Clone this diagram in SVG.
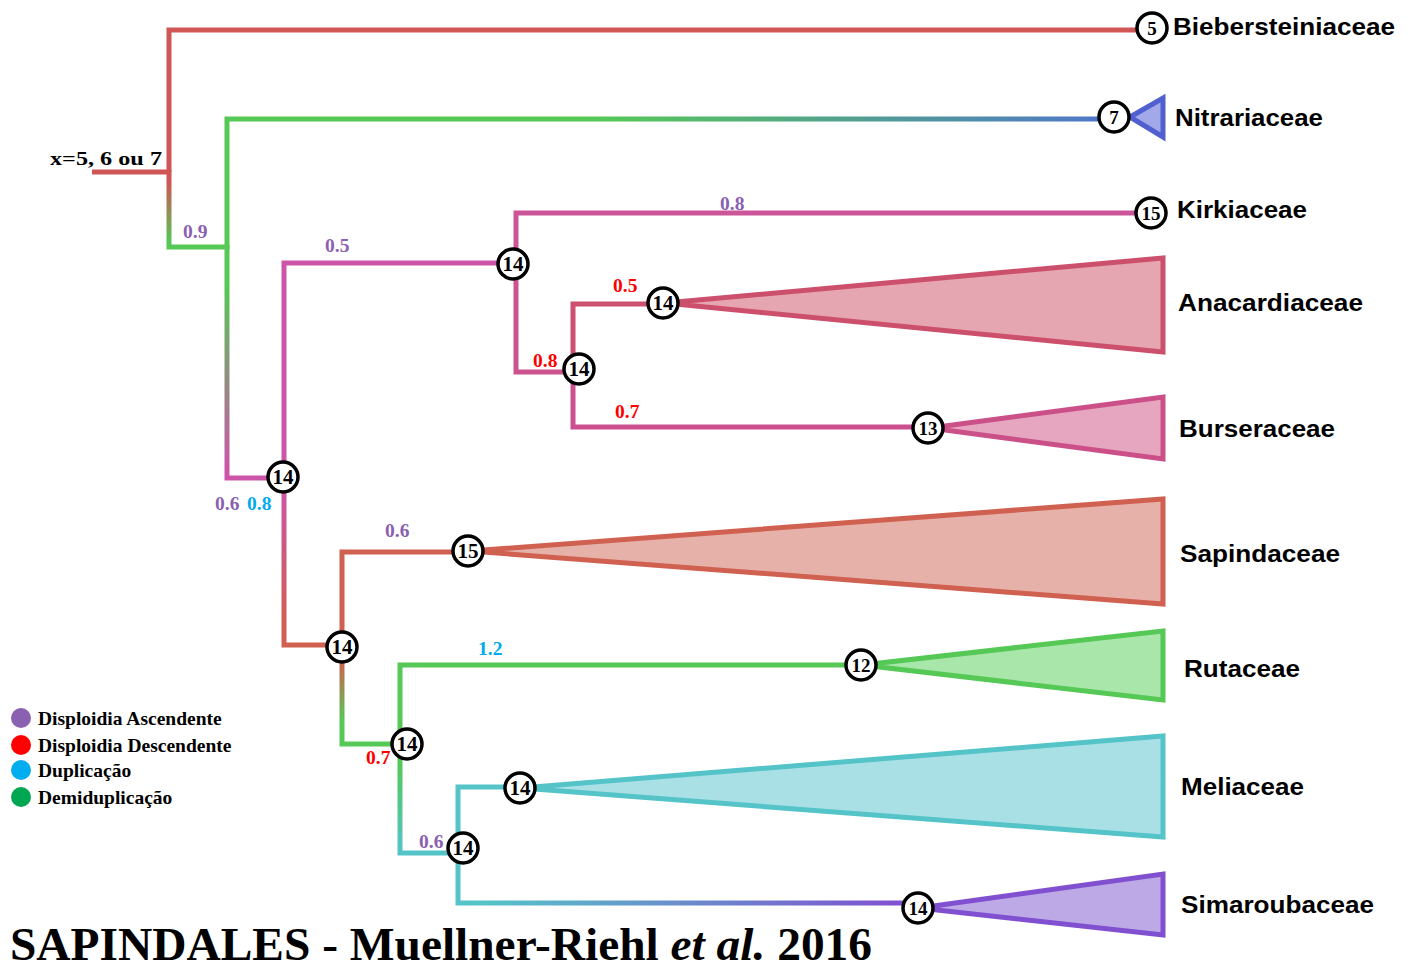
<svg xmlns="http://www.w3.org/2000/svg" width="1413" height="971" viewBox="0 0 1413 971">
<style>
.e{fill:none;stroke-width:5;stroke-linejoin:miter}
.tri{stroke-width:5;stroke-linejoin:miter}
.nc{fill:#fff;stroke:#000;stroke-width:3.5}
.nt{font-family:"Liberation Serif","Times New Roman",serif;font-weight:bold;font-size:21px;text-anchor:middle;fill:#000}
.ns{font-size:19px}
.tx{font-family:"Liberation Sans",Arial,sans-serif;font-weight:bold;font-size:23px;fill:#000}
.lb{font-family:"Liberation Serif","Times New Roman",serif;font-weight:bold;font-size:19.5px}
.pu{fill:#8a60b0}
.rd{fill:#ff0000}
.bl{fill:#00aaee}
.lg{font-family:"Liberation Serif","Times New Roman",serif;font-weight:bold;font-size:19.5px;fill:#000}
</style>
<defs>
<linearGradient id="gC" gradientUnits="userSpaceOnUse" x1="0" y1="182" x2="0" y2="242"><stop offset="0" stop-color="#d05555"/><stop offset="1" stop-color="#55c855"/></linearGradient>
<linearGradient id="gD" gradientUnits="userSpaceOnUse" x1="600" y1="0" x2="1100" y2="0"><stop offset="0" stop-color="#55c855"/><stop offset="1" stop-color="#4f78c8"/></linearGradient>
<linearGradient id="gE" gradientUnits="userSpaceOnUse" x1="0" y1="285" x2="0" y2="470"><stop offset="0" stop-color="#55c855"/><stop offset="1" stop-color="#cc55aa"/></linearGradient>
<linearGradient id="gG" gradientUnits="userSpaceOnUse" x1="0" y1="485" x2="0" y2="625"><stop offset="0" stop-color="#cc55aa"/><stop offset="1" stop-color="#d06050"/></linearGradient>
<linearGradient id="gM" gradientUnits="userSpaceOnUse" x1="0" y1="660" x2="0" y2="722"><stop offset="0" stop-color="#d06050"/><stop offset="1" stop-color="#55c855"/></linearGradient>
<linearGradient id="gO" gradientUnits="userSpaceOnUse" x1="0" y1="760" x2="0" y2="850"><stop offset="0" stop-color="#55c855"/><stop offset="1" stop-color="#55c4c8"/></linearGradient>
<linearGradient id="gQ" gradientUnits="userSpaceOnUse" x1="480" y1="0" x2="905" y2="0"><stop offset="0" stop-color="#55c4c8"/><stop offset="1" stop-color="#8050d0"/></linearGradient>
</defs>

<g id="connectors">
<path class="e" stroke="#d05555" d="M92,172 H169"/>
<path class="e" stroke="#d05555" d="M169,172 V30 H1137"/>
<path class="e" stroke="url(#gC)" d="M169,170 V247 H228"/>
<path class="e" stroke="url(#gD)" d="M227,249 V119 H1100"/>
<path class="e" stroke="url(#gE)" d="M227,245 V478 H270"/>
<path class="e" stroke="#cc55aa" d="M284,478 V263 H500"/>
<path class="e" stroke="url(#gG)" d="M284,476 V645 H328"/>
<path class="e" stroke="#cc5599" d="M516,263 V213 H1137"/>
<path class="e" stroke="#cc5590" d="M516,263 V372 H566"/>
<path class="e" stroke="#cc5070" d="M573,369 V304 H650"/>
<path class="e" stroke="#cc5090" d="M573,369 V427 H914"/>
<path class="e" stroke="#d06050" d="M342,647 V552 H455"/>
<path class="e" stroke="url(#gM)" d="M342,647 V744 H394"/>
<path class="e" stroke="#55c855" d="M400,745 V665 H848"/>
<path class="e" stroke="url(#gO)" d="M400,743 V853 H450"/>
<path class="e" stroke="#55c4c8" d="M458,848 V787 H507"/>
<path class="e" stroke="url(#gQ)" d="M458,846 V903 H905"/>
</g>

<g id="branch-labels" class="lb">
<text class="lb pu" x="183" y="238">0.9</text>
<text class="lb pu" x="325" y="252">0.5</text>
<text class="lb pu" x="720" y="210">0.8</text>
<text class="lb rd" x="613" y="292">0.5</text>
<text class="lb rd" x="533" y="367">0.8</text>
<text class="lb rd" x="615" y="418">0.7</text>
<text class="lb pu" x="215" y="510">0.6</text>
<text class="lb bl" x="247" y="510">0.8</text>
<text class="lb pu" x="385" y="537">0.6</text>
<text class="lb bl" x="478" y="655">1.2</text>
<text class="lb rd" x="366" y="764">0.7</text>
<text class="lb pu" x="419" y="848">0.6</text>
</g>

<g id="taxon-biebersteiniaceae">
<text class="tx" x="1173" y="35" textLength="222" lengthAdjust="spacingAndGlyphs">Biebersteiniaceae</text>
</g>
<g id="taxon-nitrariaceae">
<path class="tri" fill="#a3a9e8" stroke="#5060d0" d="M1130,117 L1163,98 L1163,137 Z"/>
<text class="tx" x="1175" y="126" textLength="148" lengthAdjust="spacingAndGlyphs">Nitrariaceae</text>
</g>
<g id="taxon-kirkiaceae">
<text class="tx" x="1177" y="218" textLength="130" lengthAdjust="spacingAndGlyphs">Kirkiaceae</text>
</g>
<g id="taxon-anacardiaceae">
<path class="tri" fill="#e6a6b1" stroke="#cc506c" d="M665,303 L1163,258 L1163,352 Z"/>
<text class="tx" x="1178" y="311" textLength="185" lengthAdjust="spacingAndGlyphs">Anacardiaceae</text>
</g>
<g id="taxon-burseraceae">
<path class="tri" fill="#e6a6c0" stroke="#cc5088" d="M930,428 L1163,397 L1163,459 Z"/>
<text class="tx" x="1179" y="437" textLength="156" lengthAdjust="spacingAndGlyphs">Burseraceae</text>
</g>
<g id="taxon-sapindaceae">
<path class="tri" fill="#e6b1a9" stroke="#d06050" d="M470,551 L1163,499 L1163,604 Z"/>
<text class="tx" x="1180" y="562" textLength="160" lengthAdjust="spacingAndGlyphs">Sapindaceae</text>
</g>
<g id="taxon-rutaceae">
<path class="tri" fill="#a9e6a9" stroke="#55c855" d="M862,665 L1163,631 L1163,700 Z"/>
<text class="tx" x="1184" y="677" textLength="116" lengthAdjust="spacingAndGlyphs">Rutaceae</text>
</g>
<g id="taxon-meliaceae">
<path class="tri" fill="#a9e0e6" stroke="#55c4c8" d="M521,788 L1163,736 L1163,837 Z"/>
<text class="tx" x="1181" y="795" textLength="123" lengthAdjust="spacingAndGlyphs">Meliaceae</text>
</g>
<g id="taxon-simaroubaceae">
<path class="tri" fill="#bda9e6" stroke="#8050d0" d="M919,908 L1163,874 L1163,935 Z"/>
<text class="tx" x="1181" y="913" textLength="193" lengthAdjust="spacingAndGlyphs">Simaroubaceae</text>
</g>

<g id="node-5"><circle class="nc" cx="1152" cy="28" r="15"/><text class="nt ns" x="1152" y="35">5</text></g>
<g id="node-7"><circle class="nc" cx="1114" cy="117" r="15"/><text class="nt ns" x="1114" y="124">7</text></g>
<g id="node-15-kirkiaceae"><circle class="nc" cx="1151" cy="213" r="15"/><text class="nt ns" x="1151" y="220">15</text></g>
<g id="node-14-a"><circle class="nc" cx="513" cy="264" r="15"/><text class="nt" x="513" y="271">14</text></g>
<g id="node-14-anacardiaceae"><circle class="nc" cx="663" cy="303" r="15"/><text class="nt" x="663" y="310">14</text></g>
<g id="node-14-b"><circle class="nc" cx="579" cy="369" r="15"/><text class="nt" x="579" y="376">14</text></g>
<g id="node-13"><circle class="nc" cx="928" cy="428" r="15"/><text class="nt ns" x="928" y="435">13</text></g>
<g id="node-14-c"><circle class="nc" cx="283" cy="477" r="15"/><text class="nt" x="283" y="484">14</text></g>
<g id="node-15-sapindaceae"><circle class="nc" cx="468" cy="551" r="15"/><text class="nt" x="468" y="558">15</text></g>
<g id="node-14-d"><circle class="nc" cx="342" cy="647" r="15"/><text class="nt" x="342" y="654">14</text></g>
<g id="node-12"><circle class="nc" cx="861" cy="665" r="15"/><text class="nt ns" x="861" y="672">12</text></g>
<g id="node-14-e"><circle class="nc" cx="407" cy="744" r="15"/><text class="nt" x="407" y="751">14</text></g>
<g id="node-14-meliaceae"><circle class="nc" cx="520" cy="788" r="15"/><text class="nt" x="520" y="795">14</text></g>
<g id="node-14-f"><circle class="nc" cx="463" cy="848" r="15"/><text class="nt" x="463" y="855">14</text></g>
<g id="node-14-simaroubaceae"><circle class="nc" cx="918" cy="908" r="15"/><text class="nt ns" x="918" y="915">14</text></g>

<g id="root-label">
<text class="lb" x="50" y="165" fill="#000" font-size="22" textLength="112" lengthAdjust="spacingAndGlyphs">x=5, 6 ou 7</text>
</g>

<g id="legend">
<circle cx="21" cy="718" r="10" fill="#8a60b0"/>
<circle cx="21" cy="745" r="10" fill="#ff0000"/>
<circle cx="21" cy="770" r="10" fill="#00aeef"/>
<circle cx="21" cy="797" r="10" fill="#00a651"/>
<text class="lg" x="38" y="725">Disploidia Ascendente</text>
<text class="lg" x="38" y="752">Disploidia Descendente</text>
<text class="lg" x="38" y="777">Duplicação</text>
<text class="lg" x="38" y="804">Demiduplicação</text>
</g>

<g id="title">
<text x="10" y="960" font-family="Liberation Serif, Times New Roman, serif" font-weight="bold" font-size="47" fill="#000" textLength="862" lengthAdjust="spacingAndGlyphs">SAPINDALES - Muellner-Riehl <tspan font-style="italic">et al.</tspan> 2016</text>
</g>
</svg>
